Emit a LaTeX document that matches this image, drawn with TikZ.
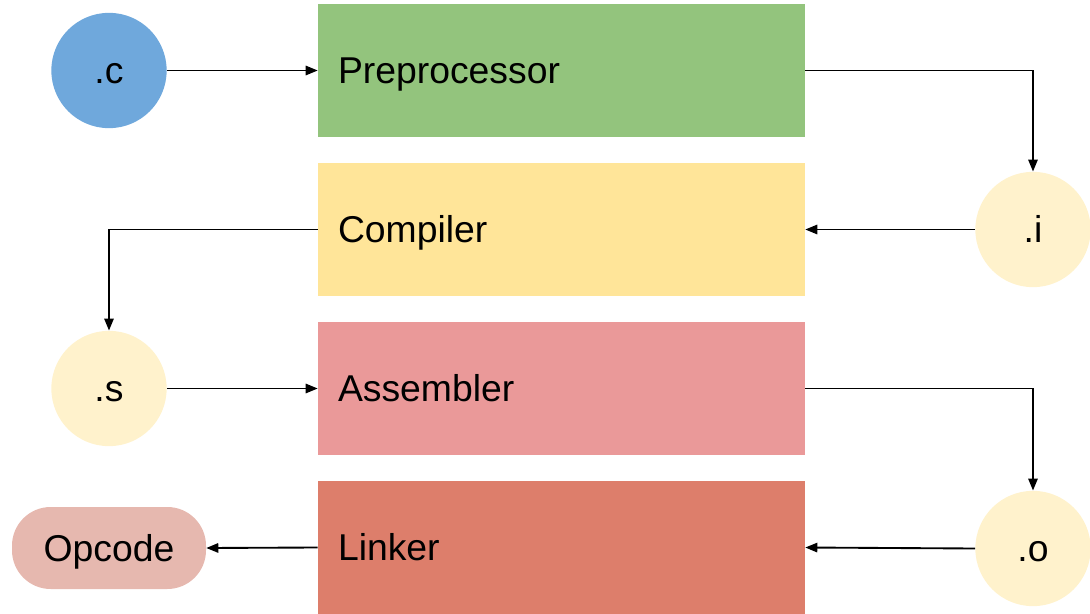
\documentclass[tikz,border=0pt]{standalone}
\usepackage{fontspec}
\setmainfont{Liberation Sans}
\usetikzlibrary{arrows.meta}
\definecolor{srcblue}{HTML}{6FA8DC}
\definecolor{stagegreen}{HTML}{93C47D}
\definecolor{stageyellow}{HTML}{FFE599}
\definecolor{stagepink}{HTML}{EA9999}
\definecolor{stagered}{HTML}{DD7E6B}
\definecolor{filecream}{HTML}{FFF2CC}
\definecolor{outrose}{HTML}{E6B8AF}
\tikzset{
  % labels are centred on their capital height
  every node/.style={font=\fontsize{28}{34}\selectfont, text=black,
    text height=20pt, text depth=0pt},
  stagebox/.style={rectangle, draw=none, minimum width=365.25pt, minimum height=99.75pt,
    text width=335.25pt, align=left, inner xsep=14.5pt, inner ysep=0pt},
  filenode/.style={circle, draw=none, minimum size=86.5pt, inner sep=0pt},
  flow/.style={draw=black, line width=1.4pt, -{Triangle[length=9pt,width=7pt]}},
}
\begin{document}
\begin{tikzpicture}[x=0.75pt, y=-0.75pt]
  \useasboundingbox (0,0) rectangle (1090,614);
  % input file
  \node[filenode, fill=srcblue] (c) at (109,70.5) {.c};
  % toolchain stages
  \node[stagebox, fill=stagegreen]  (pre)  at (561.5,70.5)  {Preprocessor};
  \node[stagebox, fill=stageyellow] (comp) at (561.5,229.5) {Compiler};
  \node[stagebox, fill=stagepink]   (asm)  at (561.5,388.5) {Assembler};
  \node[stagebox, fill=stagered]    (link) at (561.5,547.5) {Linker};
  % intermediate files
  \node[filenode, fill=filecream] (i) at (1033,229.5) {.i};
  \node[filenode, fill=filecream] (s) at (109,388.5)  {.s};
  \node[filenode, fill=filecream] (o) at (1033,548.5) {.o};
  % final output
  \node[rectangle, rounded corners=29pt, fill=outrose, minimum width=145.5pt,
        minimum height=61.5pt, inner sep=0pt] (opc) at (109,548) {Opcode};
  % connectors
  \draw[flow] (c.east) -- (pre.west);
  \draw[flow] (pre.east) -| (i.north);
  \draw[flow] (i.west) -- (comp.east);
  \draw[flow] (comp.west) -| (s.north);
  \draw[flow] (s.east) -- (asm.west);
  \draw[flow] (asm.east) -| (o.north);
  \draw[flow] (o.west) -- (link.east);
  \draw[flow] (link.west) -- (opc.east);
\end{tikzpicture}
\end{document}
